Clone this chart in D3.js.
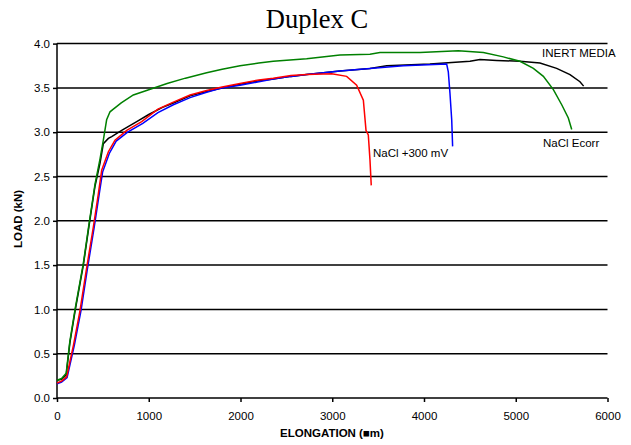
<!DOCTYPE html>
<html>
<head>
<meta charset="utf-8">
<script src="https://cdn.jsdelivr.net/npm/d3@7"></script>
<style>
  body { margin: 0; background: #fff; }
  svg { display: block; }
</style>
</head>
<body>
<div id="chart"></div>
<script>
// load vs elongation
var inertData = [[0,0.2],[50,0.21],[100,0.26],[140,0.62],[200,1.0],[287,1.5],[350,1.95],[414,2.39],[469,2.65],[505,2.87],[560,2.93],[596,2.95],[705,3.02],[869,3.12],[1000,3.2],[1150,3.28],[1268,3.33],[1450,3.41],[1631,3.46],[1800,3.5],[1995,3.54],[2200,3.58],[2357,3.6],[2550,3.63],[2721,3.65],[3084,3.69],[3411,3.72],[3593,3.75],[4065,3.77],[4501,3.8],[4610,3.82],[4792,3.81],[5046,3.8],[5264,3.78],[5446,3.72],[5591,3.65],[5700,3.57],[5740,3.52]];
var ecorrData = [[0,0.2],[50,0.22],[100,0.28],[140,0.64],[200,1.02],[287,1.52],[350,1.97],[414,2.41],[469,2.7],[505,2.91],[541,3.14],[578,3.23],[614,3.26],[700,3.33],[832,3.42],[1000,3.48],[1200,3.55],[1400,3.61],[1631,3.67],[1800,3.71],[1995,3.75],[2200,3.78],[2357,3.8],[2721,3.83],[3084,3.87],[3411,3.88],[3520,3.9],[3630,3.9],[3956,3.9],[4374,3.92],[4647,3.9],[4865,3.85],[5046,3.8],[5192,3.72],[5301,3.63],[5410,3.48],[5501,3.31],[5573,3.16],[5610,3.03]];
var plus300Data = [[0,0.17],[50,0.19],[105,0.24],[180,0.6],[251,0.99],[320,1.45],[396,1.93],[450,2.3],[487,2.57],[560,2.78],[632,2.91],[760,3.02],[923,3.12],[1100,3.26],[1268,3.34],[1450,3.42],[1631,3.47],[1800,3.51],[1995,3.55],[2200,3.59],[2357,3.61],[2550,3.64],[2721,3.65],[2994,3.66],[3157,3.63],[3266,3.53],[3339,3.36],[3368,3.02],[3393,2.97],[3411,2.69],[3425,2.4]];
var blueData = [[0,0.16],[50,0.18],[110,0.23],[190,0.6],[262,0.99],[330,1.45],[406,1.93],[460,2.3],[497,2.55],[570,2.76],[645,2.9],[770,3.0],[935,3.1],[1100,3.22],[1268,3.31],[1450,3.39],[1631,3.45],[1800,3.5],[1995,3.53],[2200,3.57],[2357,3.6],[2550,3.63],[2721,3.65],[3084,3.69],[3411,3.72],[3775,3.75],[4247,3.77],[4265,3.68],[4283,3.44],[4302,3.14],[4312,2.84]];

var xTicks = [0,1000,2000,3000,4000,5000,6000];
var yTicks = [0,0.5,1.0,1.5,2.0,2.5,3.0,3.5,4.0];

var w = 631, h = 445;
var svg = d3.select("#chart").append("svg").attr("width", w).attr("height", h);

var x = d3.scaleLinear().domain([0,6000]).range([57,607.5]);
var y = d3.scaleLinear().domain([0,4]).range([398,43.6]);

// title
svg.append("text")
  .attr("x", 317).attr("y", 28)
  .attr("text-anchor","middle")
  .attr("font-family","Liberation Serif, Times New Roman, serif")
  .attr("font-size","26.5px")
  .text("Duplex C");

// horizontal grid lines
svg.selectAll(".grid").data(yTicks.slice(1)).enter().append("line")
  .attr("x1", x(0)).attr("x2", x(6000))
  .attr("y1", function(d){ return y(d); }).attr("y2", function(d){ return y(d); })
  .attr("stroke","#000").attr("stroke-width",1.5);

// y axis
var yAxis = d3.axisLeft(y).tickValues(yTicks).tickSize(4).tickFormat(d3.format(".1f"));
var gy = svg.append("g").attr("transform","translate(" + x(0) + ",0)").call(yAxis);
gy.select(".domain").attr("stroke-width",1.5).attr("d","M0," + y(0) + "V" + y(4));
gy.selectAll("line").attr("stroke-width",1.5);
gy.selectAll("text").attr("font-family","Liberation Sans, Arial, sans-serif").attr("font-size","11.5px").attr("fill","#000").attr("x",-7);

// x axis
var xAxis = d3.axisBottom(x).tickValues(xTicks).tickSize(4).tickFormat(d3.format("d"));
var gx = svg.append("g").attr("transform","translate(0," + y(0) + ")").call(xAxis);
gx.select(".domain").attr("stroke-width",1.5).attr("d","M" + x(0) + ",0H" + x(6000));
gx.selectAll("line").attr("stroke-width",1.5);
gx.selectAll("text").attr("font-family","Liberation Sans, Arial, sans-serif").attr("font-size","11.5px").attr("fill","#000").attr("y",14);

// axis titles
svg.append("text")
  .attr("transform","translate(22,219) rotate(-90)")
  .attr("text-anchor","middle")
  .attr("font-family","Liberation Sans, Arial, sans-serif")
  .attr("font-size","11.5px").attr("font-weight","bold")
  .text("LOAD (kN)");
svg.append("text")
  .attr("x", 332).attr("y", 437)
  .attr("text-anchor","middle")
  .attr("font-family","Liberation Sans, Arial, sans-serif")
  .attr("font-size","11.5px").attr("font-weight","bold")
  .text("ELONGATION (\u25A0m)");

// curves
var line = d3.line().x(function(d){ return x(d[0]); }).y(function(d){ return y(d[1]); });
var series = [
  {data: inertData, color: "#000000"},
  {data: blueData, color: "#0000ff"},
  {data: plus300Data, color: "#ff0000"},
  {data: ecorrData, color: "#008000"}
];
series.forEach(function(s){
  svg.append("path").datum(s.data)
    .attr("d", line)
    .attr("fill","none")
    .attr("stroke", s.color)
    .attr("stroke-width",1.5);
});

// curve labels
var labels = [
  {t: "INERT MEDIA", x: 542, y: 57},
  {t: "NaCl Ecorr", x: 543, y: 147},
  {t: "NaCl +300 mV", x: 373, y: 157}
];
labels.forEach(function(l){
  svg.append("text").attr("x", l.x).attr("y", l.y)
    .attr("font-family","Liberation Sans, Arial, sans-serif")
    .attr("font-size","11.5px")
    .text(l.t);
});
</script>
</body>
</html>
